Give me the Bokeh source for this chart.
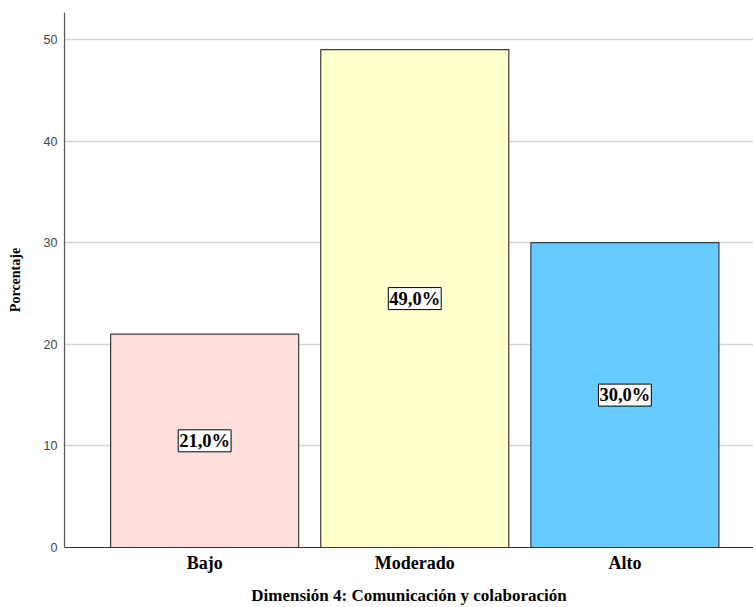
from bokeh.plotting import figure
from bokeh.models import ColumnDataSource, FixedTicker, Label, Range1d
from bokeh.embed import file_html
from bokeh.resources import INLINE

categories = ["Bajo", "Moderado", "Alto"]
percentages = [21.0, 49.0, 30.0]
colors = ["#FFDEDE", "#FFFFCC", "#66CCFF"]
y_ticks = [0, 10, 20, 30, 40, 50]

xs = [i + 0.5 for i in range(len(categories))]
labels = [f"{v:.1f}%".replace(".", ",") for v in percentages]
src = ColumnDataSource(dict(x=xs, top=percentages, color=colors))

p = figure(width=753, height=607, output_backend="svg", toolbar_location=None,
           x_range=Range1d(-0.167, 3.112), y_range=Range1d(0, 52.66),
           min_border_left=64, min_border_right=0, min_border_top=12, min_border_bottom=60)
p.outline_line_color = None
p.background_fill_color = "white"

p.vbar(x="x", top="top", width=0.895, bottom=0, source=src, fill_color="color",
       line_color="#3a3a3a", line_width=1.2)

for x, v, t in zip(xs, percentages, labels):
    p.add_layout(Label(x=x, y=v / 2, text=t, text_align="center", text_baseline="middle",
                       text_font="Liberation Serif", text_font_style="bold",
                       text_font_size="18.5px", text_color="black",
                       background_fill_color="white", border_line_color="black",
                       border_line_width=1, padding=1))

p.xgrid.grid_line_color = None
p.ygrid.grid_line_color = "#d6d6d6"
p.ygrid.grid_line_width = 1.4

p.xaxis.ticker = FixedTicker(ticks=xs)
p.xaxis.major_label_overrides = {x: c for x, c in zip(xs, categories)}
p.xaxis.major_tick_line_color = None
p.xaxis.major_tick_out = 0
p.xaxis.major_tick_in = 0
p.xaxis.minor_tick_line_color = None
p.xaxis.axis_line_color = "#333333"
p.xaxis.axis_line_width = 1.2
p.xaxis.major_label_text_font = "Liberation Serif"
p.xaxis.major_label_text_font_style = "bold"
p.xaxis.major_label_text_font_size = "18px"
p.xaxis.major_label_text_color = "black"
p.xaxis.major_label_standoff = 5
p.xaxis.axis_label = "Dimensión 4: Comunicación y colaboración"
p.xaxis.axis_label_text_font = "Liberation Serif"
p.xaxis.axis_label_text_font_style = "bold"
p.xaxis.axis_label_text_font_size = "17px"
p.xaxis.axis_label_text_color = "black"
p.xaxis.axis_label_standoff = 10

p.yaxis.ticker = FixedTicker(ticks=y_ticks)
p.yaxis.minor_tick_line_color = None
p.yaxis.major_tick_line_color = None
p.yaxis.major_tick_out = 0
p.yaxis.major_tick_in = 0
p.yaxis.axis_line_color = "#555555"
p.yaxis.axis_line_width = 1.2
p.yaxis.major_label_text_font = "Liberation Sans"
p.yaxis.major_label_text_font_size = "12.5px"
p.yaxis.major_label_text_color = "#444444"
p.yaxis.major_label_standoff = 7
p.yaxis.axis_label = "Porcentaje"
p.yaxis.axis_label_text_font = "Liberation Serif"
p.yaxis.axis_label_text_font_style = "bold"
p.yaxis.axis_label_text_font_size = "14px"
p.yaxis.axis_label_text_color = "black"
p.yaxis.axis_label_standoff = 18

open("out.html", "w").write(file_html(p, INLINE))
